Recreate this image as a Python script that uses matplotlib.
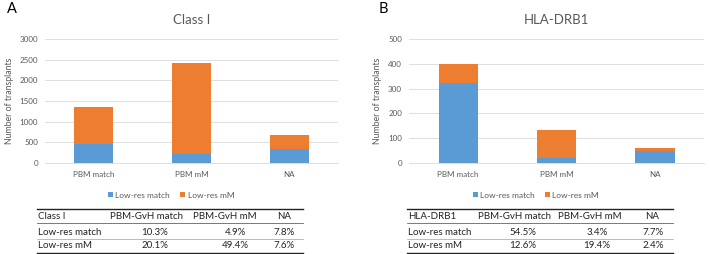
import matplotlib.pyplot as plt
from matplotlib.lines import Line2D

plt.rcParams['font.family'] = ['Lato', 'DejaVu Sans']

# bar data
categories = ['PBM match', 'PBM mM', 'NA']
classI_lowres_match = [458, 217, 346]
classI_lowres_mm = [893, 2212, 330]
drb1_lowres_match = [324, 20, 47]
drb1_lowres_mm = [76, 114, 13]

# table data
table_cols = ['PBM-GvH match', 'PBM-GvH mM', 'NA']
table_rows = ['Low-res match', 'Low-res mM']
classI_table = [['10.3%', '4.9%', '7.8%'],
                ['20.1%', '49.4%', '7.6%']]
drb1_table = [['54.5%', '3.4%', '7.7%'],
              ['12.6%', '19.4%', '2.4%']]

blue = '#5B9BD5'
orange = '#ED7D31'
grey_txt = '#595959'

W, H = 709, 254
fig = plt.figure(figsize=(W / 100, H / 100), dpi=100)


def fx(px):
    return px / W


def fy(py):
    return 1 - py / H


def bar_panel(left, right, match, mm, ymax, step, title, letter, letter_x):
    ax = fig.add_axes([fx(left), fy(163), fx(right - left), fy(39) - fy(163)])
    x = range(len(categories))
    ax.bar(x, match, width=0.4, color=blue, label='Low-res match', zorder=3)
    ax.bar(x, mm, width=0.4, bottom=match, color=orange, label='Low-res mM', zorder=3)
    ax.set_xlim(-0.5, 2.5)
    ax.set_ylim(0, ymax)
    ax.set_yticks(range(0, ymax + 1, step))
    ax.set_xticks(list(x))
    ax.set_xticklabels(categories)
    ax.tick_params(length=0, labelsize=5.8, colors=grey_txt, pad=5)
    ax.tick_params(axis='x', pad=6)
    ax.grid(axis='y', color='#D9D9D9', linewidth=0.6, zorder=0)
    for s in ['top', 'right', 'left']:
        ax.spines[s].set_visible(False)
    ax.spines['bottom'].set_color('#D9D9D9')
    ax.spines['bottom'].set_linewidth(0.6)
    ax.set_ylabel('Number of transplants', fontsize=6.3, color=grey_txt, labelpad=4)
    ax.set_title(title, fontsize=9.5, color=grey_txt, pad=11)
    ax.legend(loc='upper center', bbox_to_anchor=(0.43, -0.17), ncol=2, frameon=False,
              fontsize=6, handlelength=0.6, handleheight=0.6, columnspacing=1.2,
              handletextpad=0.3, labelcolor=grey_txt)
    fig.text(fx(letter_x), fy(9), letter, fontsize=10.5, ha='center', va='center')
    return ax


def table_panel(x0, x1, name, rows, head_x, val_x):
    ys = [216.7, 232.3, 246.0]
    fig.add_artist(Line2D([fx(x0), fx(x1)], [fy(209), fy(209)], color='#222222', lw=1.0))
    fig.add_artist(Line2D([fx(x0), fx(x1)], [fy(223), fy(223)], color='#444444', lw=0.5))
    fig.add_artist(Line2D([fx(x0), fx(x1)], [fy(239), fy(239)], color='#888888', lw=0.4))
    fig.add_artist(Line2D([fx(x0), fx(x1)], [fy(253), fy(253)], color='#222222', lw=1.0))
    fs = 7
    fig.text(fx(x0 + 1), fy(ys[0]), name, fontsize=fs, va='center', ha='left', color='#222222')
    for c, hx in zip(table_cols, head_x):
        fig.text(fx(hx), fy(ys[0]), c, fontsize=fs, va='center', ha='center', color='#222222')
    for r, (lab, vals) in enumerate(zip(table_rows, rows)):
        fig.text(fx(x0 + 1), fy(ys[r + 1]), lab, fontsize=fs, va='center', ha='left', color='#222222')
        for v, vx in zip(vals, val_x):
            fig.text(fx(vx), fy(ys[r + 1]), v, fontsize=fs, va='center', ha='center', color='#222222')


bar_panel(45, 338, classI_lowres_match, classI_lowres_mm, 3000, 500, 'Class I', 'A', 12)
bar_panel(409, 704, drb1_lowres_match, drb1_lowres_mm, 500, 100, 'HLA-DRB1', 'B', 383)

table_panel(37, 303, 'Class I', classI_table, [146, 225, 284], [155, 235, 284])
table_panel(407, 673, 'HLA-DRB1', drb1_table, [515, 590, 652], [523, 597, 653])

fig.savefig('out.png', dpi=100)
